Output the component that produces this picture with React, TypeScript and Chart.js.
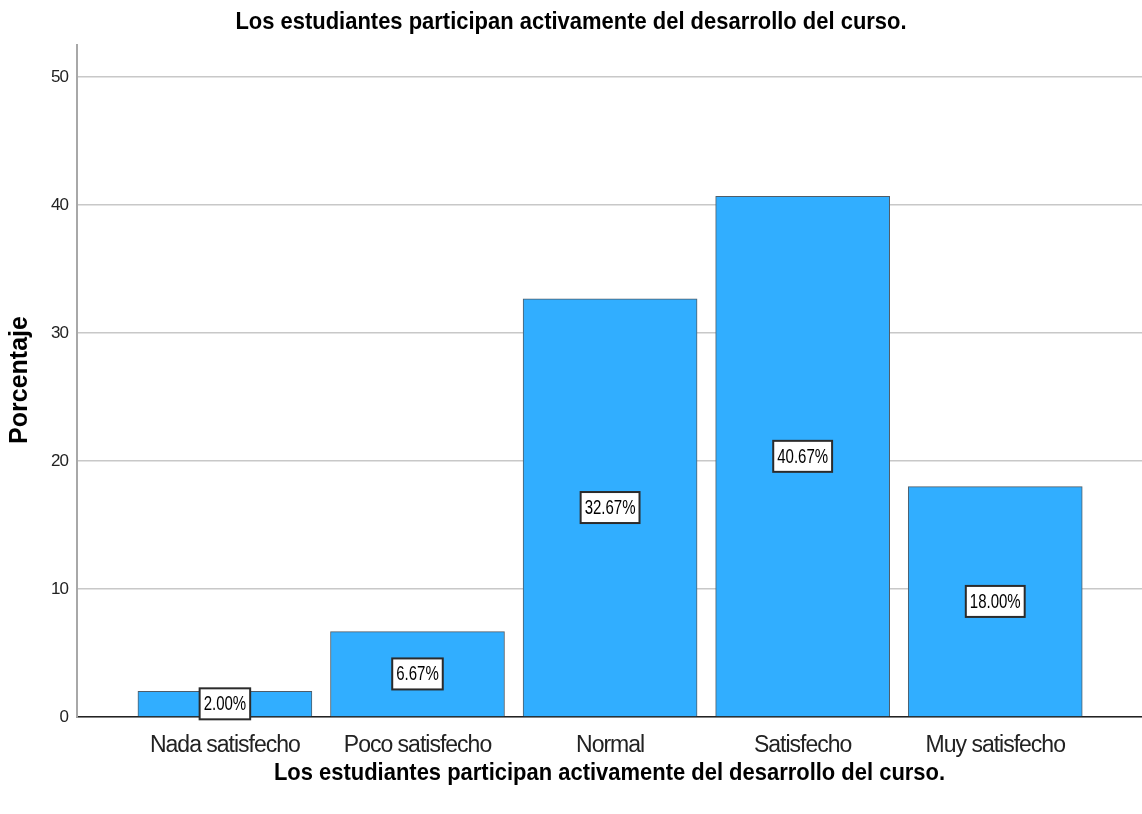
import React, { useEffect, useRef } from 'react';
import { Chart, registerables } from 'chart.js';

Chart.register(...registerables);

const categories = ['Nada satisfecho', 'Poco satisfecho', 'Normal', 'Satisfecho', 'Muy satisfecho'];
const percentages = [2.0, 6.67, 32.67, 40.67, 18.0];
const valueLabels = ['2.00%', '6.67%', '32.67%', '40.67%', '18.00%'];
const yTicks = [0, 10, 20, 30, 40, 50];
const chartTitle = 'Los estudiantes participan activamente del desarrollo del curso.';
const xAxisTitle = 'Los estudiantes participan activamente del desarrollo del curso.';
const yAxisTitle = 'Porcentaje';

const FONT = '"Liberation Sans", Arial, sans-serif';

function drawNarrow(ctx: any, text: string, x: number, y: number, sx: number) {
  ctx.save();
  ctx.translate(x, y);
  ctx.scale(sx, 1);
  ctx.fillText(text, 0, 0);
  ctx.restore();
}

const textPlugin = {
  id: 'spssText',
  beforeDraw(chart: any) {
    chart.ctx.letterSpacing = '-1px';
  },
  afterDatasetsDraw(chart: any) {
    const ctx = chart.ctx;
    const meta = chart.getDatasetMeta(0);
    ctx.save();
    ctx.letterSpacing = '0px';
    ctx.font = `20px ${FONT}`;
    ctx.textAlign = 'center';
    ctx.textBaseline = 'middle';
    const sx = 0.75;
    meta.data.forEach((el: any, i: number) => {
      const cx = el.x;
      const cy = (el.y + el.base) / 2;
      const txt = valueLabels[i];
      const w = ctx.measureText(txt).width * sx + 8;
      const h = 31;
      ctx.fillStyle = '#ffffff';
      ctx.fillRect(cx - w / 2, cy - h / 2, w, h);
      ctx.strokeStyle = '#2b2b2b';
      ctx.lineWidth = 2;
      ctx.strokeRect(cx - w / 2, cy - h / 2, w, h);
      ctx.fillStyle = '#000000';
      drawNarrow(ctx, txt, cx, cy + 1, sx);
    });
    ctx.restore();
  },
  afterDraw(chart: any) {
    const ctx = chart.ctx;
    const area = chart.chartArea;
    ctx.save();
    ctx.letterSpacing = '0px';
    ctx.fillStyle = '#000000';
    ctx.textAlign = 'center';
    ctx.textBaseline = 'middle';
    ctx.font = `bold 24px ${FONT}`;
    drawNarrow(ctx, chartTitle, chart.width / 2, 22, 0.915);
    drawNarrow(ctx, xAxisTitle, (area.left + area.right) / 2, 773, 0.915);
    ctx.translate(20, 380);
    ctx.rotate(-Math.PI / 2);
    ctx.font = `bold 25px ${FONT}`;
    ctx.fillText(yAxisTitle, 0, 0);
    ctx.restore();
    ctx.letterSpacing = '0px';
  },
};

export default function App() {
  const ref = useRef<HTMLCanvasElement | null>(null);
  useEffect(() => {
    document.body.style.margin = '0';
    if (!ref.current) return;
    const chart = new Chart(ref.current, {
      type: 'bar',
      data: {
        datasets: [
          {
            data: percentages.map((v, i) => ({ x: i, y: v })),
            backgroundColor: '#31AEFF',
            borderColor: '#4f5d68',
            borderWidth: 1,
            barThickness: 174,
          },
        ],
      },
      options: {
        responsive: false,
        animation: false,
        layout: { padding: { top: 45, left: 0, right: 0, bottom: 0 } },
        plugins: { legend: { display: false }, tooltip: { enabled: false }, title: { display: false } },
        scales: {
          x: {
            type: 'linear',
            offset: false,
            min: -0.768,
            max: 4.762,
            afterBuildTicks: (s: any) => {
              s.ticks = categories.map((_, i) => ({ value: i }));
            },
            afterFit: (s: any) => {
              s.height = 97;
            },
            ticks: {
              autoSkip: false,
              maxRotation: 0,
              minRotation: 0,
              padding: 15,
              color: '#222',
              font: { family: FONT, size: 23 },
              callback: (v: any) => categories[Math.round(Number(v))] ?? '',
            },
            grid: { display: false, drawTicks: false },
            border: { display: true, color: '#222', width: 1.5 },
          },
          y: {
            type: 'linear',
            min: 0,
            max: 52.5,
            afterBuildTicks: (s: any) => {
              s.ticks = yTicks.map((v) => ({ value: v }));
            },
            afterFit: (s: any) => {
              s.width = 77;
            },
            ticks: {
              padding: 9,
              color: '#222',
              font: { family: FONT, size: 17 },
            },
            grid: { color: '#c8c8c8', lineWidth: 1.5, drawTicks: false },
            border: { display: true, color: '#a8a8a8', width: 2 },
          },
        },
      },
      plugins: [textPlugin],
    } as any);
    return () => chart.destroy();
  }, []);
  return <canvas ref={ref} width={1142} height={814} style={{ display: 'block' }} />;
}
